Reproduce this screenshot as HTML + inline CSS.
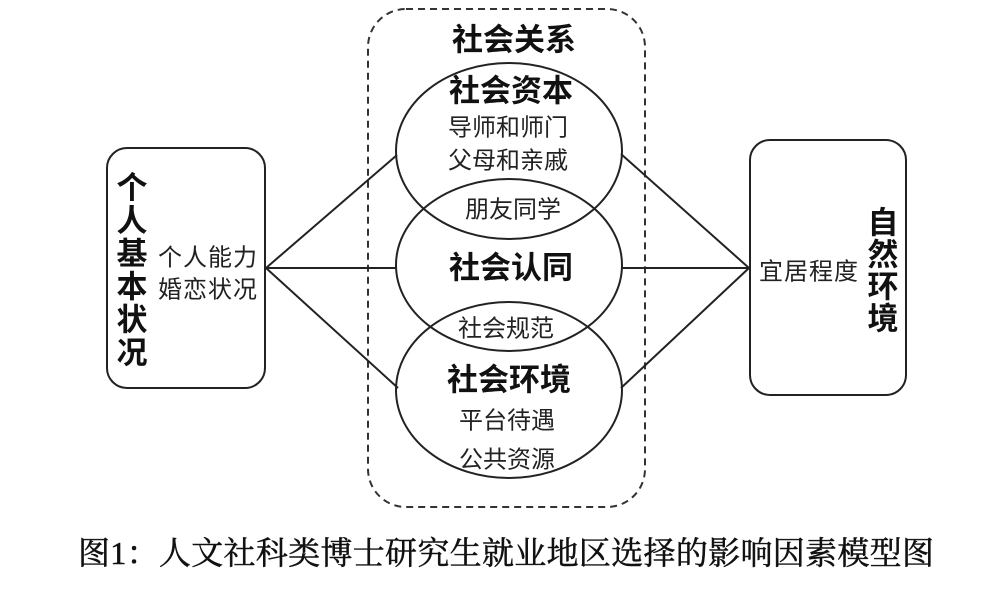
<!DOCTYPE html>
<html>
<head>
<meta charset="utf-8">
<style>
html,body{margin:0;padding:0;background:#fff;}
svg{display:block;}
.b{font-family:"Liberation Sans","Noto Sans CJK SC",sans-serif;font-weight:bold;fill:#111;}
.r{font-family:"Liberation Sans","Noto Sans CJK SC",sans-serif;fill:#222;}
.s{font-family:"Liberation Serif","Noto Serif CJK SC",serif;fill:#111;stroke:#111;stroke-width:0.5px;}
</style>
</head>
<body>
<svg width="1000" height="599" viewBox="0 0 1000 599" xmlns="http://www.w3.org/2000/svg">
  <rect x="0" y="0" width="1000" height="599" fill="#fff"/>
  <!-- dashed group box -->
  <rect x="368" y="9" width="277" height="498" rx="38" ry="38" fill="none" stroke="#333" stroke-width="2" stroke-dasharray="7,5"/>

  <!-- left box -->
  <rect x="107" y="148" width="158" height="240" rx="20" ry="20" fill="none" stroke="#222" stroke-width="2"/>
  <!-- right box -->
  <rect x="750" y="140" width="156" height="255" rx="20" ry="20" fill="none" stroke="#222" stroke-width="2"/>

  <!-- connectors -->
  <g stroke="#222" stroke-width="2" fill="none">
    <line x1="266" y1="268" x2="397" y2="155"/>
    <line x1="266" y1="268" x2="397" y2="268"/>
    <line x1="266" y1="268" x2="398" y2="388"/>
    <line x1="749" y1="268" x2="621" y2="154"/>
    <line x1="749" y1="268" x2="622" y2="268"/>
    <line x1="749" y1="268" x2="621" y2="388"/>
  </g>

  <!-- ellipses -->
  <g stroke="#222" stroke-width="2" fill="none">
    <ellipse cx="509" cy="151" rx="113" ry="88"/>
    <ellipse cx="509" cy="265" rx="113" ry="86"/>
    <ellipse cx="509" cy="390" rx="113" ry="88"/>
  </g>

  <!-- central texts -->
  <g text-anchor="middle" dominant-baseline="central">
    <text class="b" x="514" y="40" font-size="31">社会关系</text>
    <text class="b" x="511" y="91" font-size="31">社会资本</text>
    <text class="r" x="508" y="128" font-size="24">导师和师门</text>
    <text class="r" x="508" y="161" font-size="24">父母和亲戚</text>
    <text class="r" x="513" y="210" font-size="24">朋友同学</text>
    <text class="b" x="511" y="268" font-size="31">社会认同</text>
    <text class="r" x="506" y="329" font-size="24">社会规范</text>
    <text class="b" x="509" y="380" font-size="31">社会环境</text>
    <text class="r" x="507" y="421" font-size="24">平台待遇</text>
    <text class="r" x="507" y="460" font-size="24">公共资源</text>

    <!-- left box texts -->
    <text class="r" x="208" y="258" font-size="24" letter-spacing="1">个人能力</text>
    <text class="r" x="208" y="290" font-size="24" letter-spacing="1">婚恋状况</text>
    <text class="b" x="132" y="188" font-size="31">个</text>
    <text class="b" x="132" y="221" font-size="31">人</text>
    <text class="b" x="132" y="254" font-size="31">基</text>
    <text class="b" x="132" y="287" font-size="31">本</text>
    <text class="b" x="132" y="320" font-size="31">状</text>
    <text class="b" x="132" y="353" font-size="31">况</text>

    <!-- right box texts -->
    <text class="r" x="809" y="272" font-size="24" letter-spacing="1">宜居程度</text>
    <text class="b" x="883" y="223" font-size="31">自</text>
    <text class="b" x="883" y="255" font-size="31">然</text>
    <text class="b" x="883" y="287" font-size="31">环</text>
    <text class="b" x="883" y="319" font-size="31">境</text>
  </g>

  <!-- caption -->
  <text class="s" x="78" y="553" font-size="32" dominant-baseline="central" textLength="856" lengthAdjust="spacing">图1：人文社科类博士研究生就业地区选择的影响因素模型图</text>
</svg>
</body>
</html>
